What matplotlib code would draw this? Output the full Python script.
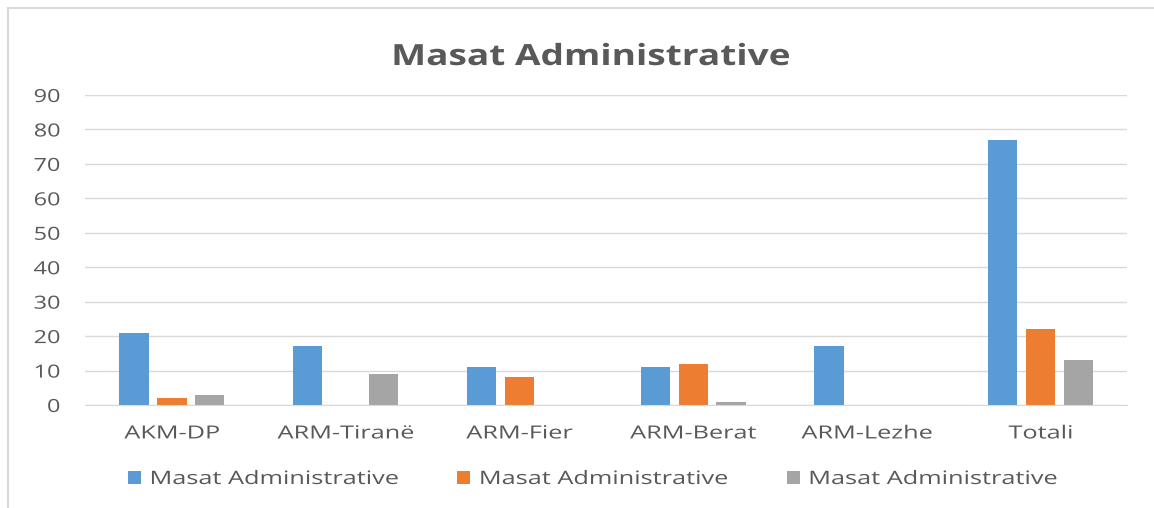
import matplotlib
matplotlib.use("Agg")
import matplotlib.pyplot as plt
import numpy as np
from matplotlib.patches import Rectangle
from matplotlib.patheffects import AbstractPathEffect
from matplotlib.transforms import Affine2D

categories = ["AKM-DP", "ARM-Tiranë", "ARM-Fier", "ARM-Berat", "ARM-Lezhe", "Totali"]
series_names = ["Masat Administrative", "Masat Administrative", "Masat Administrative"]
series1 = [21, 17, 11, 11, 17, 77]
series2 = [2, 0, 8, 12, 0, 22]
series3 = [3, 9, 0, 1, 0, 13]
colors = ["#5B9BD5", "#ED7D31", "#A5A5A5"]
yticks = [0, 10, 20, 30, 40, 50, 60, 70, 80, 90]


class HStretch(AbstractPathEffect):
    """Stretch text horizontally around an anchor (text stays a Text artist)."""
    def __init__(self, sx, anchor="center"):
        super().__init__()
        self.sx = sx
        self.anchor = anchor

    def draw_path(self, renderer, gc, tpath, affine, rgbFace=None):
        ext = tpath.get_extents(affine)
        if self.anchor == "left":
            x0 = ext.x0
        elif self.anchor == "right":
            x0 = ext.x1
        else:
            x0 = 0.5 * (ext.x0 + ext.x1)
        new = affine + Affine2D().translate(-x0, 0).scale(self.sx, 1).translate(x0, 0)
        renderer.draw_path(gc, tpath, new, rgbFace)


TXT = "#595959"
plt.rcParams['font.family'] = ['Open Sans', 'DejaVu Sans']
fig = plt.figure(figsize=(11.54, 5.08), dpi=100)
fig.patches.append(Rectangle((8 / 1154, -0.1), 1.2, 1.1 - 8 / 508, transform=fig.transFigure,
                             fill=False, edgecolor="#D9D9D9", linewidth=1.5))
ax = fig.add_axes([0.0737, 0.2028, 0.9033, 0.6102])

x = np.arange(len(categories))
w = 0.168
off = 0.218
for i, (vals, c, name) in enumerate(zip([series1, series2, series3], colors, series_names)):
    ax.bar(x + (i - 1) * off, vals, width=w, color=c, label=name, zorder=3)

ax.set_xlim(-0.5, len(categories) - 0.5)
ax.set_ylim(0, 90)
ax.set_yticks(yticks)
ax.set_xticks(x)
ax.set_xticklabels(categories)
ax.tick_params(axis='both', length=0, colors=TXT, labelsize=13)
ax.tick_params(axis='x', pad=14)
ax.tick_params(axis='y', pad=18)
for t in ax.get_xticklabels():
    t.set_path_effects([HStretch(1.4, "center")])
for t in ax.get_yticklabels():
    t.set_path_effects([HStretch(1.3, "right")])
ax.grid(axis='y', color="#D9D9D9", linewidth=1, zorder=0)
for s in ["top", "right", "left"]:
    ax.spines[s].set_visible(False)
ax.spines["bottom"].set_color("#D9D9D9")
ax.spines["bottom"].set_zorder(4)

title = fig.text(591 / 1154, 1 - 65 / 508, "Masat Administrative", ha="center", va="baseline",
                 fontsize=21, fontweight="bold", color=TXT)
title.set_path_effects([HStretch(1.27, "center")])

fs = 13.3
leg = fig.legend(loc="center left", bbox_to_anchor=(128 / 1154, 1 - 479 / 508), ncol=3,
                 frameon=False, fontsize=fs, handlelength=0.7, handleheight=0.7,
                 columnspacing=6.75, handletextpad=0.5, borderpad=0, borderaxespad=0)
for t in leg.get_texts():
    t.set_color(TXT)
    t.set_path_effects([HStretch(1.37, "left")])

fig.savefig("out.png", dpi=100)
